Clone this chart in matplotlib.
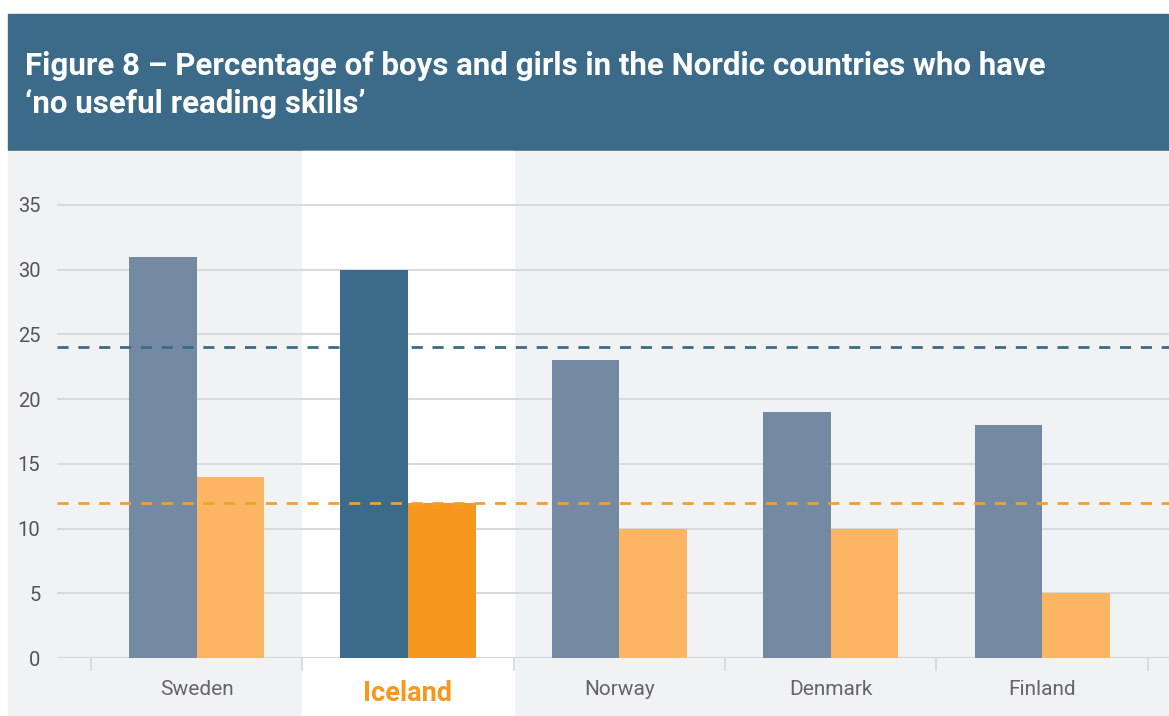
import matplotlib.pyplot as plt
from matplotlib.patches import Rectangle
import numpy as np

countries = ['Sweden', 'Iceland', 'Norway', 'Denmark', 'Finland']
boys = [31, 30, 23, 19, 18]
girls = [14, 12, 10, 10, 5]
boys_avg = 24
girls_avg = 12
highlight = 'Iceland'

title = "Figure 8 \u2013 Percentage of boys and girls in the Nordic countries who have\n\u2018no useful reading skills\u2019"

plt.rcParams['font.family'] = ['Roboto', 'DejaVu Sans']

W, H = 1169, 716
fig = plt.figure(figsize=(W / 100, H / 100), dpi=100)
fig.patch.set_facecolor('white')

# header band and grey panel (figure pixel coordinates)
fig.patches.append(Rectangle((8 / W, (H - 150) / H), 1 - 8 / W, 136 / H,
                             transform=fig.transFigure, color='#3b6b88', zorder=-2))
fig.patches.append(Rectangle((8 / W, 0), 1 - 8 / W, (H - 151) / H,
                             transform=fig.transFigure, color='#f1f2f4', zorder=-2))
fig.text(25 / W, (H - 85) / H, title, color='white', fontsize=22.5, fontweight='bold',
         va='center', ha='left', linespacing=1.32)

ax_bottom = (H - 658) / H
ax_top = (H - 151) / H
ax = fig.add_axes([57 / W, ax_bottom, 1 - 57 / W, ax_top - ax_bottom])
ax.set_facecolor('none')

x = np.arange(len(countries))
w = 0.32
hi = countries.index(highlight)
bcol = ['#3b6b88' if i == hi else '#738aa2' for i in x]
gcol = ['#f7971e' if i == hi else '#fbb563' for i in x]

# white highlight column
ax.axvspan(hi - 0.5, hi + 0.5, ymin=-58 / 507, ymax=1, color='white', clip_on=False, zorder=0)

ax.bar(x - w / 2, boys, w, color=bcol, zorder=3)
ax.bar(x + w / 2, girls, w, color=gcol, zorder=3)

ax.axhline(boys_avg, color='#3b6b88', lw=2, ls=(0, (4, 3.5)), zorder=4)
ax.axhline(girls_avg, color='#f0a030', lw=2, ls=(0, (4, 3.5)), zorder=4)

ax.set_xlim(-0.66, 4.6)
ax.set_ylim(0, (658 - 151) / ((658 - 205) / 35))
ax.set_yticks(range(0, 36, 5))
ax.yaxis.grid(True, color='#d6d7d9', lw=1.3, zorder=1)
ax.set_axisbelow(True)
ax.axhline(0, color='#d6d7d9', lw=1.5, zorder=2)
for s in ax.spines.values():
    s.set_visible(False)
ax.tick_params(axis='y', length=0, labelsize=14.5, labelcolor='#555555', pad=12)

ax.set_xticks(np.arange(-0.5, len(countries), 1))
ax.set_xticklabels([])
ax.tick_params(axis='x', which='major', length=9, width=1.2, color='#d6d7d9', direction='out')
ax.set_xticks(x, minor=True)
ax.set_xticklabels(countries, minor=True)
ax.tick_params(axis='x', which='minor', length=0, pad=16, labelsize=15, labelcolor='#666666')
for lbl in ax.get_xticklabels(minor=True):
    if lbl.get_text() == highlight:
        lbl.set_color('#f7971e')
        lbl.set_fontweight('bold')
        lbl.set_fontsize(19.5)

fig.savefig('out.png', dpi=100)
